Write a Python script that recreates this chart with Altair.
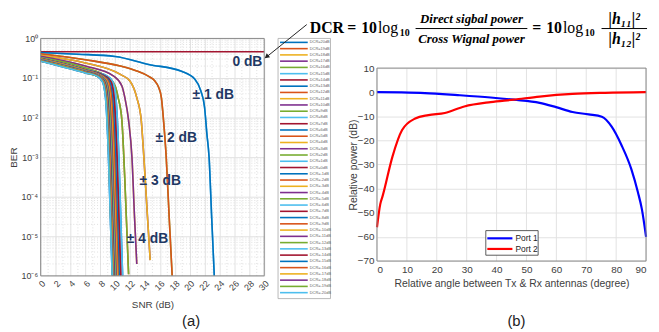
import json
import altair as alt
import pandas as pd

# ---------------- (a) BER vs SNR data ----------------
dcr_values = list(range(20, -21, -1))
dcr_labels = [f"DCR={d}dB" for d in dcr_values]
matlab_colors = ["#0072BD", "#D95319", "#EDB120", "#7E2F8E", "#77AC30", "#4DBEEE", "#A2142F"]
line_colors = [matlab_colors[i % 7] for i in range(len(dcr_values))]

snr_ticks = list(range(0, 31, 2))
snr_minor = list(range(1, 30, 2))
ber_ticks = [1e-6, 1e-5, 1e-4, 1e-3, 1e-2, 1e-1, 1]
ber_tick_labels = ["10⁻⁶", "10⁻⁵", "10⁻⁴", "10⁻³", "10⁻²", "10⁻¹", "10⁰"]
ber_minor_mant = [2, 3, 4, 5, 6, 7, 8, 9]
ber_minor_exp = [-6, -5, -4, -3, -2, -1]

# curves read per |DCR| (the +k and -k curves overlap)
ber_curves = {
    0: ([0, 30], [0.46, 0.46]),
    1: ([0, 5, 10, 14.5, 18.9, 20.7, 21.5, 22.0, 22.3, 22.6, 22.95, 23.3],
        [0.44, 0.40, 0.35, 0.22, 0.148, 0.093, 0.047, 0.018, 4.0e-3, 1.0e-3, 3e-5, 1e-6]),
    2: ([0, 6, 10.7, 12.9, 14.5, 15.3, 15.8, 16.2, 16.5, 16.85, 17.25, 17.65],
        [0.41, 0.29, 0.20, 0.15, 0.11, 0.085, 0.06, 0.032, 8e-3, 1e-3, 3e-5, 1e-6]),
    3: ([0, 6, 10.7, 12.0, 12.9, 13.5, 13.85, 14.3, 14.7],
        [0.37, 0.24, 0.123, 0.083, 0.032, 8.5e-3, 1e-3, 4e-5, 2.5e-6]),
    4: ([0, 6, 9.8, 10.9, 11.3, 11.8, 12.25, 12.6, 12.9],
        [0.355, 0.20, 0.112, 0.063, 0.032, 8.5e-3, 1e-3, 3e-5, 2e-6]),
    5: ([0, 6, 9.1, 10.0, 10.4, 10.9, 11.3, 11.8],
        [0.33, 0.18, 0.10, 0.063, 0.032, 8.5e-3, 2.6e-4, 1.1e-6]),
    6: ([0, 6, 9.0, 9.7, 10.1, 10.5, 10.75, 11.0],
        [0.32, 0.165, 0.11, 0.08, 0.032, 1e-3, 3e-5, 1e-6]),
    7: ([0, 6, 8.75, 9.45, 9.85, 10.25, 10.5, 10.75],
        [0.315, 0.162, 0.11, 0.08, 0.032, 1e-3, 3e-5, 1e-6]),
    8: ([0, 6, 8.55, 9.25, 9.65, 10.05, 10.3, 10.55],
        [0.31, 0.16, 0.11, 0.08, 0.032, 1e-3, 3e-5, 1e-6]),
    9: ([0, 6, 8.4, 9.1, 9.5, 9.9, 10.15, 10.4],
        [0.305, 0.157, 0.11, 0.08, 0.032, 1e-3, 3e-5, 1e-6]),
    10: ([0, 6, 8.25, 8.95, 9.35, 9.75, 10.0, 10.25],
         [0.30, 0.155, 0.11, 0.08, 0.032, 1e-3, 3e-5, 1e-6]),
    11: ([0, 6, 8.15, 8.85, 9.25, 9.65, 9.9, 10.15],
         [0.295, 0.152, 0.11, 0.08, 0.032, 1e-3, 3e-5, 1e-6]),
    12: ([0, 6, 8.05, 8.75, 9.15, 9.55, 9.8, 10.05],
         [0.29, 0.15, 0.11, 0.08, 0.032, 1e-3, 3e-5, 1e-6]),
    13: ([0, 6, 7.95, 8.65, 9.05, 9.45, 9.7, 9.95],
         [0.285, 0.148, 0.11, 0.08, 0.032, 1e-3, 3e-5, 1e-6]),
    14: ([0, 6, 7.9, 8.6, 9.0, 9.4, 9.65, 9.9],
         [0.282, 0.146, 0.11, 0.08, 0.032, 1e-3, 3e-5, 1e-6]),
    15: ([0, 6, 7.85, 8.55, 8.95, 9.35, 9.6, 9.85],
         [0.279, 0.144, 0.11, 0.08, 0.032, 1e-3, 3e-5, 1e-6]),
    16: ([0, 6, 7.8, 8.5, 8.9, 9.3, 9.55, 9.8],
         [0.276, 0.142, 0.11, 0.08, 0.032, 1e-3, 3e-5, 1e-6]),
    17: ([0, 6, 7.75, 8.45, 8.85, 9.25, 9.5, 9.75],
         [0.273, 0.14, 0.11, 0.08, 0.032, 1e-3, 3e-5, 1e-6]),
    18: ([0, 6, 7.7, 8.4, 8.8, 9.2, 9.45, 9.7],
         [0.27, 0.138, 0.11, 0.08, 0.032, 1e-3, 3e-5, 1e-6]),
    19: ([0, 6, 7.65, 8.35, 8.75, 9.15, 9.4, 9.65],
         [0.268, 0.136, 0.11, 0.08, 0.032, 1e-3, 3e-5, 1e-6]),
    20: ([0, 6, 7.6, 8.3, 8.7, 9.1, 9.35, 9.6],
         [0.265, 0.134, 0.11, 0.08, 0.032, 1e-3, 3e-5, 1e-6]),
}

ann_text = ["0 dB", "± 1 dB", "± 2 dB", "± 3 dB", "± 4 dB"]
ann_snr = [27.74, 23.17, 18.19, 16.06, 14.34]
ann_ber = [0.251, 0.0376, 2.99e-3, 2.5e-4, 8.4e-6]

# ---------------- (b) relative power data ----------------
angle_ticks = list(range(0, 91, 10))
power_ticks = list(range(-70, 11, 10))
port_names = ["Port 1", "Port 2"]
port_colors = ["#0000FF", "#FF0000"]
port1_deg = [0, 8, 16, 27, 38, 45.7, 54.4, 59.9, 65.4, 70.8, 75.2, 78.5, 81.8, 85.1, 87.3, 88.6, 90]
port1_db = [0, -0.1, -0.35, -1.2, -2.2, -3.1, -4.4, -6.2, -8.2, -9.2, -10.2, -14.3, -22, -32, -41.6, -48.5, -60]
port2_deg = [0, 1.1, 1.9, 5.2, 8.4, 12.8, 17.2, 22.7, 29.2, 38, 45.7, 54.4, 65.4, 76.3, 90]
port2_db = [-56, -46.4, -43, -26.6, -15.7, -10.9, -9.5, -8.6, -5.9, -4.1, -3.1, -1.8, -0.7, -0.25, 0]

# ---------------- tables ----------------
rows = []
for i, d in enumerate(dcr_values):
    xs, ys = ber_curves[abs(d)]
    for s, b in zip(xs, ys):
        rows.append({"dcr": dcr_labels[i], "snr": s, "ber": b})
ber_df = pd.DataFrame(rows)
leg_df = pd.DataFrame({"dcr": dcr_labels, "row": list(range(len(dcr_labels)))})
ann_df = pd.DataFrame({"t": ann_text, "snr": ann_snr, "ber": ann_ber})
ymin_df = pd.DataFrame({"ber": [m * 10.0 ** e for e in ber_minor_exp for m in ber_minor_mant]})
xmin_df = pd.DataFrame({"snr": snr_minor})
one = pd.DataFrame({"a": [0]})

b_df = pd.concat([
    pd.DataFrame({"port": port_names[0], "angle": port1_deg, "power": port1_db}),
    pd.DataFrame({"port": port_names[1], "angle": port2_deg, "power": port2_db}),
])
bgrid_df = pd.DataFrame({"angle": angle_ticks})

GRID = "#e2e2e2"
FRAME = "#8a8a8a"
LAB = "#404040"
NAVY = "#1F3864"

# ---------------- panel (a) ----------------
label_expr = json.dumps(ber_tick_labels, ensure_ascii=False) + "[round(log(datum.value)/LN10)+6]"
xa_scale = alt.Scale(domain=[0, 30], nice=False)
ya_scale = alt.Scale(type="log", domain=[1e-6, 1], nice=False)

xa = alt.X("snr:Q", scale=xa_scale, axis=alt.Axis(
    values=snr_ticks, tickCount=len(snr_ticks), title="SNR (dB)", labelAngle=315, labelFontSize=9,
    labelColor=LAB, titleFontSize=10, titleFontWeight="normal", titleColor=LAB, ticks=False,
    domain=False, grid=True, gridColor=GRID, labelPadding=3, titlePadding=8, labelOverlap=False))
ya = alt.Y("ber:Q", scale=ya_scale, axis=alt.Axis(
    values=ber_ticks, tickCount=len(ber_ticks), labelExpr=label_expr, title="BER", labelFontSize=9,
    labelColor=LAB, titleFontSize=10, titleFontWeight="normal", titleColor=LAB, ticks=False,
    domain=False, grid=True, gridColor=GRID, labelPadding=3, titlePadding=3, labelOverlap=False))
color_a = alt.Color("dcr:N", scale=alt.Scale(domain=dcr_labels, range=line_colors), legend=None)

minor_y = alt.Chart(ymin_df).mark_rule(color="#d8d8d8", strokeDash=[1, 2], strokeWidth=0.8).encode(
    y=alt.Y("ber:Q", scale=ya_scale), x=alt.datum(0), x2=alt.datum(30))
minor_x = alt.Chart(xmin_df).mark_rule(color="#d8d8d8", strokeDash=[1, 2], strokeWidth=0.8).encode(
    x=alt.X("snr:Q", scale=xa_scale), y=alt.datum(1e-6), y2=alt.datum(1))
lines_a = alt.Chart(ber_df).mark_line(clip=True, strokeWidth=1.6, interpolate="monotone").encode(
    x=xa, y=ya, color=color_a)
frame_a = alt.Chart(one).mark_rect(fillOpacity=0, stroke=FRAME, strokeWidth=1).encode(
    x=alt.datum(0), x2=alt.datum(30), y=alt.datum(1e-6), y2=alt.datum(1))
ann_a = alt.Chart(ann_df).mark_text(fontSize=14, fontWeight="bold", font="Liberation Sans",
                                     color=NAVY, align="center", baseline="middle").encode(
    x=alt.X("snr:Q", scale=xa_scale), y=alt.Y("ber:Q", scale=ya_scale), text="t:N")
core_a = alt.layer(minor_y, minor_x, lines_a, frame_a, ann_a)

leg_y = alt.Y("row:Q", scale=alt.Scale(domain=[0, 40], range=[4, 257]), axis=None)
leg_box = alt.Chart(one).mark_rect(fill="white", stroke="#a8a8a8", strokeWidth=0.8).encode(
    x=alt.value(240), x2=alt.value(293), y=alt.value(0), y2=alt.value(263))
leg_lines = alt.Chart(leg_df).mark_rule(strokeWidth=1.6).encode(
    x=alt.value(242), x2=alt.value(270), y=leg_y, color=color_a)
leg_text = alt.Chart(leg_df).mark_text(align="left", baseline="middle", fontSize=4, color="#666",
                                       font="Liberation Sans").encode(
    x=alt.value(272), y=leg_y, text="dcr:N")
arrow = alt.Chart(one).mark_rule(color="#222", strokeWidth=1).encode(
    x=alt.value(228), y=alt.value(19), x2=alt.value(269), y2=alt.value(-14))
arrow_head = alt.Chart(one).mark_point(shape="triangle", filled=True, size=30, angle=231,
                                       color="#222", opacity=1).encode(
    x=alt.value(229), y=alt.value(18))
cap_a = alt.Chart(one).mark_text(text="(a)", fontSize=15, font="Liberation Sans", color="#222",
                                 align="center", baseline="middle").encode(
    x=alt.value(152), y=alt.value(286))
anchor_a = alt.Chart(one).mark_rule(strokeOpacity=0).encode(
    x=alt.value(-33), x2=alt.value(-32), y=alt.value(100))

panel_a = alt.layer(core_a, leg_box, leg_lines, leg_text, arrow, arrow_head, cap_a, anchor_a).resolve_scale(
    y="independent").properties(width=226, height=240)

# ---------------- panel (b) ----------------
xb_scale = alt.Scale(domain=[0, 90], nice=False)
yb_scale = alt.Scale(domain=[-70, 22.3], nice=False, zero=False)
xb = alt.X("angle:Q", scale=xb_scale, axis=alt.Axis(
    values=angle_ticks, tickCount=len(angle_ticks),
    title="Relative angle between Tx & Rx antennas (degree)", labelFontSize=10,
    labelColor=LAB, titleFontSize=10.5, titleFontWeight="normal", titleColor=LAB, ticks=False,
    domain=False, grid=False, labelPadding=4, titlePadding=4, labelOverlap=False))
yb = alt.Y("power:Q", scale=yb_scale, axis=alt.Axis(
    values=power_ticks, tickCount=len(power_ticks), title="Relative power (dB)", labelFontSize=10,
    labelColor=LAB, titleFontSize=10.5, titleFontWeight="normal", titleColor=LAB, ticks=False,
    domain=False, grid=True, gridColor=GRID, labelPadding=3, titleX=-19, titleY=127.5,
    labelOverlap=False))
color_b = alt.Color("port:N", scale=alt.Scale(domain=port_names, range=port_colors), legend=None)

grid_b = alt.Chart(bgrid_df).mark_rule(color=GRID).encode(
    x=alt.X("angle:Q", scale=xb_scale), y=alt.datum(-70), y2=alt.datum(10))
lines_b = alt.Chart(b_df).mark_line(strokeWidth=2.2, interpolate="monotone").encode(
    x=xb, y=yb, color=color_b)
frame_b = alt.Chart(one).mark_rect(fillOpacity=0, stroke=FRAME, strokeWidth=1).encode(
    x=alt.datum(0), x2=alt.datum(90), y=alt.datum(-70), y2=alt.datum(10))

LEG_B_X = [36.4, 53.9, 36.9, 45.3, 46.3]
LEG_B_Y = [-57.4, -67.6]
LEG_B_ROWS = [-60.6, -65.0]
legb_box = alt.Chart(one).mark_rect(fill="white", stroke="#333", strokeWidth=0.8).encode(
    x=alt.datum(LEG_B_X[0]), x2=alt.datum(LEG_B_X[1]), y=alt.datum(LEG_B_Y[0]), y2=alt.datum(LEG_B_Y[1]))
legb_layers = [legb_box]
for name, col, ry in zip(port_names, port_colors, LEG_B_ROWS):
    legb_layers.append(alt.Chart(one).mark_rule(color=col, strokeWidth=2.2).encode(
        x=alt.datum(LEG_B_X[2]), x2=alt.datum(LEG_B_X[3]), y=alt.datum(ry)))
    legb_layers.append(alt.Chart(one).mark_text(text=name, fontSize=8.5, font="Liberation Sans",
                                                color="#222", align="left", baseline="middle").encode(
        x=alt.datum(LEG_B_X[4]), y=alt.datum(ry)))

def piece(text, x, y, size, weight="bold", style="normal", align="left"):
    return alt.Chart(one).mark_text(text=text, fontSize=size, fontWeight=weight, fontStyle=style,
                                    font="Liberation Serif", color="black", align=align,
                                    baseline="middle").encode(x=alt.value(x), y=alt.value(y))

def bar(x1, x2, y):
    return alt.Chart(one).mark_rule(color="black", strokeWidth=1).encode(
        x=alt.value(x1), x2=alt.value(x2), y=alt.value(y))

eq = [
    piece("DCR", -68, -10, 16),
    piece("=", -30, -10, 16),
    piece("10", -16, -10, 16),
    piece("log", 1, -10, 16, weight="normal"),
    piece("10", 23, -5, 10),
    piece("Direct sigbal power", 95.5, -20, 13, style="italic", align="center"),
    bar(39, 152, -10),
    piece("Cross Wignal power", 95.5, 1, 13, style="italic", align="center"),
    piece("=", 157, -10, 16),
    piece("10", 171, -10, 16),
    piece("log", 188, -10, 16, weight="normal"),
    piece("10", 210, -5, 10),
    piece("|h₁₁|²", 250, -20, 16, style="italic", align="center"),
    bar(227, 273, -10),
    piece("|h₁₂|²", 250, 1, 16, style="italic", align="center"),
]
cap_b = alt.Chart(one).mark_text(text="(b)", fontSize=15, font="Liberation Sans", color="#222",
                                 align="center", baseline="middle").encode(
    x=alt.value(141), y=alt.value(286))
anchor_b = alt.Chart(one).mark_rule(strokeOpacity=0).encode(
    x=alt.value(100), x2=alt.value(101), y=alt.value(-29))

panel_b = alt.layer(grid_b, lines_b, frame_b, *legb_layers, *eq, cap_b, anchor_b).properties(
    width=272, height=225)

chart = alt.hconcat(panel_a, panel_b, spacing=114, bounds="flush").resolve_scale(
    color="independent"
).properties(
    padding={"left": 0, "right": 0, "top": 0, "bottom": 0}
).configure_view(strokeWidth=0).configure_axis(labelFont="Liberation Sans", titleFont="Liberation Sans")

chart.save("out.html", embed_options={"renderer": "svg", "actions": False})
